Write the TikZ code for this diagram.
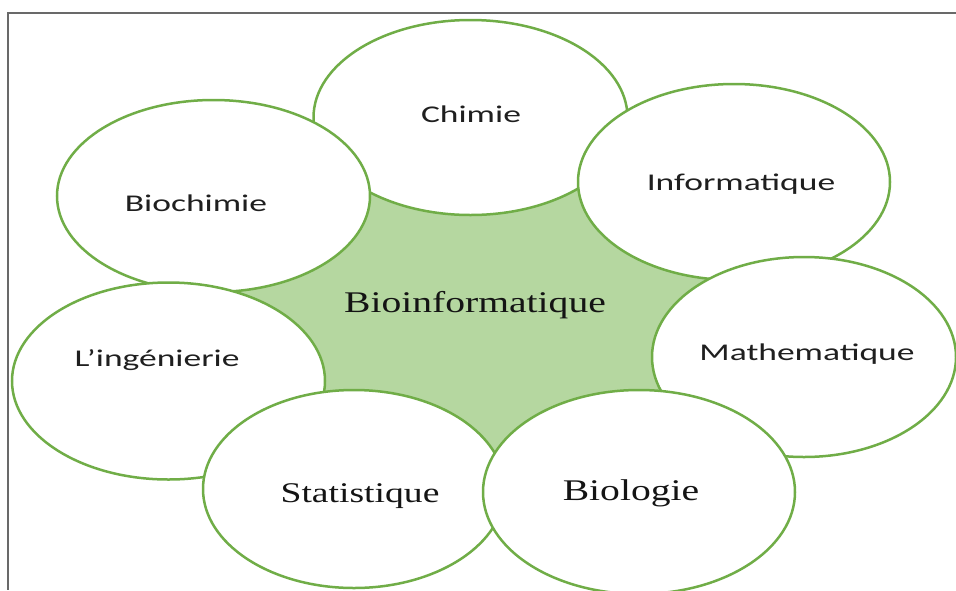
\documentclass[tikz,border=0pt]{standalone}
\usepackage{fontspec}
\usepackage{tikz}
\definecolor{biogreen}{RGB}{112,173,71}
\definecolor{biofill}{RGB}{181,215,160}
\definecolor{framegray}{RGB}{105,105,105}
\newfontfamily\petalfont[FakeStretch=1.48]{Carlito}
\newfontfamily\corefont[FakeStretch=1.32]{Liberation Serif}
\usetikzlibrary{shapes,positioning}

\begin{document}
\begin{tikzpicture}[x=1pt, y=-1pt,
    petal/.style={ellipse, draw=biogreen, line width=2.5pt, fill=white, inner sep=0pt},
    petaltext/.style={anchor=base, inner sep=0pt, text=black!88, font=\petalfont\fontsize{24}{28}\selectfont},
    coretext/.style={anchor=base, inner sep=0pt, text=black!92, font=\corefont\fontsize{30}{34}\selectfont}]
    \useasboundingbox (0,0) rectangle (956,590);

    % Petal centres
    \coordinate (c-chimie) at (470.5,117.5);
    \coordinate (c-info) at (734,182);
    \coordinate (c-math) at (804,357);
    \coordinate (c-bio) at (639,492);
    \coordinate (c-stat) at (354,489);
    \coordinate (c-ing) at (168.5,381);
    \coordinate (c-biochimie) at (213.5,196);

    % Frame
    \draw[framegray, line width=1.3pt] (956,13) -- (8,13) -- (8,590);

    % Star in the middle (covered by the petals)
    \fill[biofill] (c-chimie) -- (c-info) -- (c-math) -- (c-bio) -- (c-stat) -- (c-ing) -- (c-biochimie) -- cycle;

    % Petals (order gives the overlaps)
    \node[petal, minimum width=314pt, minimum height=195pt] (chimie) at (c-chimie) {};
    \node[petal, minimum width=312pt, minimum height=196pt] (info) at (c-info) {};
    \node[petal, minimum width=304pt, minimum height=200pt] (math) at (c-math) {};
    \node[petal, minimum width=313pt, minimum height=192pt] (biochimie) at (c-biochimie) {};
    \node[petal, minimum width=313pt, minimum height=197pt] (ing) at (c-ing) {};
    \node[petal, minimum width=302pt, minimum height=198pt] (stat) at (c-stat) {};
    \node[petal, minimum width=312pt, minimum height=204pt] (bio) at (c-bio) {};

    % Labels
    \node[petaltext] (chimie-txt) at (471,122) {Chimie};
    \node[petaltext] (info-txt) at (741,190) {Informatique};
    \node[petaltext] (biochimie-txt) at (196,211) {Biochimie};
    \node[petaltext] (ing-txt) at (157,366) {L’ingénierie};
    \node[petaltext] (math-txt) at (807,360) {Mathematique};
    \node[coretext] (core-txt) at (475,312) {Bioinformatique};
    \node[coretext, font=\corefont\fontsize{28.5}{32}\selectfont] (stat-txt) at (360,502) {Statistique};
    \node[coretext] (bio-txt) at (631,500) {Biologie};
\end{tikzpicture}
\end{document}
